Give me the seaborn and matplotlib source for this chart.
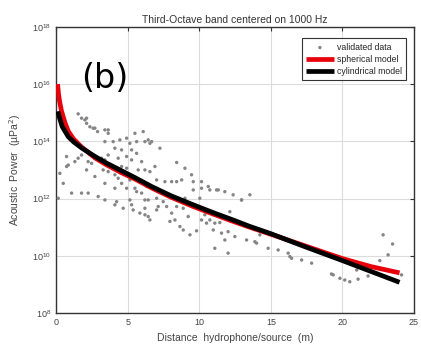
import numpy as np
import pandas as pd
import matplotlib
matplotlib.use("Agg")
import matplotlib.pyplot as plt
import seaborn as sns

# ---- data ----
data_x = [1.52, 1.76, 2.11, 2.34, 2.57, 2.88, 3.39, 3.62, 5.49, 6.07,
          3.39, 3.97, 4.44, 4.91, 5.14, 5.61, 4.09, 4.56, 5.26, 5.61,
          3.62, 4.32, 4.91, 5.26, 1.76, 1.52, 1.29, 0.83, 2.22, 2.46,
          3.16, 3.39, 0.24, 0.71, 2.11, 3.27, 3.62, 4.56, 4.91, 5.72,
          2.69, 4.09, 4.32, 5.14, 4.56, 3.39, 0.48, 4.09, 4.91, 5.49,
          5.61, 1.06, 1.76, 2.22, 2.92, 3.39, 4.09, 4.67, 5.37, 5.84,
          0.13, 6.19, 5.14, 5.26, 6.19, 6.42, 6.66, 7.24, 5.96, 6.19,
          6.54, 6.89, 8.41, 8.99, 9.45, 7.01, 7.59, 8.06, 8.41, 8.76,
          9.57, 10.15, 10.62, 11.20, 11.78, 6.31, 6.77, 5.96, 6.42, 7.01,
          7.47, 8.99, 9.57, 10.03, 7.12, 7.71, 8.41, 8.87, 8.06, 6.19,
          6.42, 8.29, 9.22, 10.38, 10.73, 11.08, 8.64, 10.15, 12.36, 12.95,
          13.53, 12.13, 12.01, 12.48, 13.30, 13.88, 14.00, 14.81, 15.51, 14.23,
          16.21, 16.33, 12.01, 17.15, 17.85, 19.24, 19.36, 19.83, 20.17, 20.52,
          21.10, 21.80, 22.62, 22.85, 23.20, 23.51, 24.14, 6.54, 7.01, 7.94,
          8.87, 9.34, 9.80, 10.50, 10.97, 11.43, 11.55, 11.08, 11.78, 16.45,
          21.00, 0.71, 1.52, 2.11, 1.99, 2.69, 3.62, 4.21, 6.19, 6.54,
          10.15, 10.73, 11.32, 12.95]
data_log = [14.96, 14.81, 14.63, 14.51, 14.46, 14.34, 14.40, 14.28, 14.28, 14.34,
            13.99, 13.99, 14.05, 14.11, 13.93, 13.99, 13.76, 13.70, 13.70, 13.58,
            13.52, 13.41, 13.47, 13.35, 13.52, 13.41, 13.29, 13.17, 13.29, 13.23,
            13.41, 13.35, 12.88, 13.12, 13.00, 13.00, 12.94, 13.12, 13.06, 13.00,
            12.77, 12.83, 12.71, 12.65, 12.53, 12.53, 12.53, 12.36, 12.36, 12.36,
            12.24, 12.19, 12.19, 12.19, 12.07, 11.95, 11.78, 11.66, 11.60, 11.49,
            12.01, 11.95, 11.95, 11.78, 13.99, 14.05, 13.99, 13.76, 13.29, 13.00,
            12.94, 13.12, 13.26, 13.06, 12.83, 12.65, 12.59, 12.59, 12.59, 12.65,
            12.59, 12.36, 12.42, 12.30, 12.24, 12.42, 12.36, 12.19, 11.95, 12.01,
            11.89, 12.01, 12.30, 12.01, 11.72, 11.72, 11.72, 11.66, 11.49, 11.43,
            11.37, 11.25, 11.37, 11.43, 11.25, 11.14, 11.02, 11.25, 12.13, 11.95,
            12.13, 11.54, 10.84, 10.67, 10.55, 10.49, 10.44, 10.26, 10.20, 10.73,
            10.09, 9.97, 10.09, 9.85, 9.74, 9.36, 9.33, 9.21, 9.15, 9.09,
            9.18, 9.29, 9.83, 10.73, 10.03, 10.41, 9.33, 11.25, 11.60, 11.20,
            10.90, 10.73, 10.87, 11.14, 10.90, 11.16, 10.79, 10.26, 10.55, 9.91,
            9.50, 13.47, 13.87, 14.81, 14.75, 14.46, 14.40, 11.89, 11.66, 13.93,
            12.59, 12.30, 12.30, 11.95]

sph_x = [0.08, 0.15, 0.22, 0.36, 0.6, 0.83, 1.2, 1.76, 2.7, 3.5, 4.56, 5.5,
         6.66, 8.0, 9.57, 11.0, 12.36, 13.5, 15.0, 17.3, 20.0, 22.0, 24.0]
sph_log = [16.0, 15.65, 15.4, 15.05, 14.65, 14.35, 14.08, 13.8, 13.42, 13.18,
           12.9, 12.68, 12.37, 12.05, 11.72, 11.45, 11.2, 11.0, 10.75, 10.36,
           9.9, 9.62, 9.4]

cyl_x = [0.1, 0.2, 0.4, 0.83, 1.2, 1.76, 2.7, 3.5, 4.56, 5.5, 6.66, 8.0, 9.57,
         11.0, 12.36, 13.5, 15.0, 17.3, 20.0, 22.0, 24.0]
cyl_log = [15.05, 14.85, 14.52, 14.16, 13.98, 13.77, 13.47, 13.24, 12.97, 12.73,
           12.42, 12.1, 11.78, 11.5, 11.25, 11.03, 10.77, 10.33, 9.83, 9.45, 9.07]

x_ticks = [0, 5, 10, 15, 20, 25]
y_ticks = [1e8, 1e10, 1e12, 1e14, 1e16, 1e18]

title = "Third-Octave band centered on 1000 Hz"
xlabel = "Distance  hydrophone/source  (m)"
ylabel = "Acoustic  Power  (µPa$^2$)"

# ---- figure ----
sns.set_style("whitegrid")
plt.rcParams["font.family"] = ["Liberation Sans", "DejaVu Sans"]

fig = plt.figure(figsize=(4.21, 3.5), dpi=100)
ax = fig.add_axes([0.134, 0.106, 0.849, 0.817])

scat = pd.DataFrame({"x": data_x, "y": 10 ** np.array(data_log)})
sph = pd.DataFrame({"x": sph_x, "y": 10 ** np.array(sph_log)})
cyl = pd.DataFrame({"x": cyl_x, "y": 10 ** np.array(cyl_log)})

sns.scatterplot(data=scat, x="x", y="y", ax=ax, color="#858585", s=6,
                edgecolor="none", label="validated data", zorder=3)
sns.lineplot(data=sph, x="x", y="y", ax=ax, color="#e8000b", lw=3.4,
             sort=False, estimator=None, label="spherical model", zorder=4,
             solid_joinstyle="round", solid_capstyle="butt")
sns.lineplot(data=cyl, x="x", y="y", ax=ax, color="black", lw=3.4,
             sort=False, estimator=None, label="cylindrical model", zorder=5,
             solid_joinstyle="round", solid_capstyle="butt")

ax.set_yscale("log")
ax.set_xlim(0, 25)
ax.set_ylim(1e8, 1e18)
ax.set_xticks(x_ticks)
ax.set_xticklabels(["0", "5", "10", "15", "20", "25"])
ax.set_yticks(y_ticks)
ax.yaxis.set_minor_locator(matplotlib.ticker.NullLocator())

ax.grid(True, color="#dcdcdc", lw=0.8)
for s in ax.spines.values():
    s.set_color("#333333")
    s.set_linewidth(1.0)
ax.tick_params(direction="in", length=3, width=0.8, labelsize=6.5,
               colors="#333333", top=True, right=True, pad=4)
ax.tick_params(axis="both", labelcolor="#444444")

ax.set_title(title, fontsize=7.5, color="#333333", pad=3)
ax.set_xlabel(xlabel, fontsize=7.5, color="#444444", labelpad=4)
ax.set_ylabel(ylabel, fontsize=7.5, color="#444444", labelpad=6)

ax.text(0.07, 0.82, "(b)", transform=ax.transAxes, fontsize=24,
        va="center", ha="left", color="black", zorder=6,
        family=["DejaVu Sans"])

leg = ax.legend(loc="upper right", fontsize=6.3, frameon=True, fancybox=False,
                edgecolor="black", handlelength=3.2, borderpad=0.5,
                labelspacing=0.35, handletextpad=0.3, markerscale=1.0,
                bbox_to_anchor=(0.99, 0.975))
leg.get_frame().set_linewidth(0.8)

fig.savefig("out.png", dpi=100)
